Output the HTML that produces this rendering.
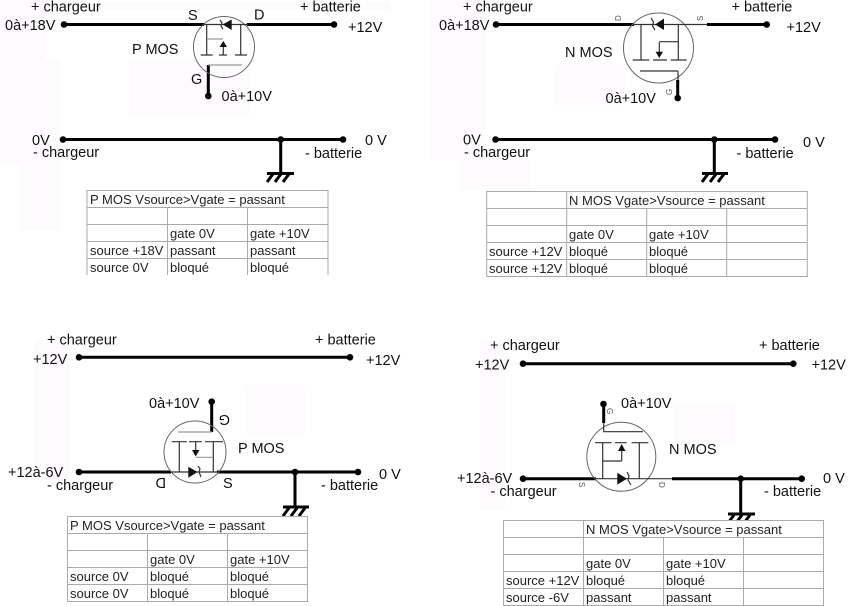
<!DOCTYPE html>
<html><head><meta charset="utf-8"><style>
html,body{margin:0;padding:0;background:#fff}
svg{display:block}
text{font-family:"Liberation Sans",Arial,sans-serif;font-size:14.5px;fill:#111}
.t text{font-size:13px;fill:#222}
.g{fill:none;stroke:#aaa;stroke-width:1}
.k{fill:none;stroke:#000;stroke-width:3}
.m{fill:none;stroke:#333;stroke-width:1.2}
.l{fill:none;stroke:#999;stroke-width:1.2}
.c{fill:#fff;fill-opacity:0;stroke:#666;stroke-width:1}
text.s{font-size:8px;fill:#555}
</style></head><body>
<svg width="851" height="606" viewBox="0 0 851 606" xmlns="http://www.w3.org/2000/svg">
<rect width="851" height="606" fill="#fff"/>
<g fill="#fefbfe">
<rect x="0" y="0" width="45" height="165"/><rect x="20" y="60" width="40" height="170"/><rect x="130" y="60" width="120" height="55"/><rect x="30" y="2" width="360" height="8"/>
<rect x="430" y="0" width="55" height="160"/><rect x="460" y="160" width="70" height="30"/><rect x="555" y="65" width="70" height="40"/>
<rect x="35" y="340" width="35" height="140"/><rect x="245" y="385" width="60" height="50"/>
<rect x="480" y="340" width="25" height="170"/><rect x="675" y="405" width="60" height="40"/>
</g>

<!-- Panel 1 -->
<g class="k"><path d="M64 24.5H204M247 24.5H334M208.3 65V96M64 139.5H343M280.7 139.5V173"/><path d="M267 173.5H294M273 174l-6 8M281 174l-6 8M289 174l-6 8" stroke-width="3"/></g>
<g fill="#000"><circle cx="64" cy="24.5" r="3.3"/><circle cx="334" cy="24.5" r="3.3"/><circle cx="208.3" cy="96" r="3.3"/><circle cx="63" cy="139.5" r="3.3"/><circle cx="343" cy="139.5" r="3.3"/><circle cx="280.7" cy="139.5" r="3.3"/></g>
<circle class="c" cx="224" cy="47" r="30.5"/>
<path class="m" d="M204 24.5H248M206.7 24.5V55M240.7 24.5V55M200.7 55H212.7M219 55H227M235 55H247M223.3 47V55M220 20l2 3-1 3 2 3"/>
<path class="l" d="M207 39H223M208 65H242"/>
<path d="M222.7 24.5L231.7 19.5V30Z M223.3 41L219.5 47H227Z" fill="#111"/>

<!-- Panel 2 -->
<g class="k"><path d="M496 24.5H634M707 24.5H767M677.7 80V98M496 139.5H775M714.3 139.5V173"/><path d="M702 173.5H728M708 174l-6 8M716 174l-6 8M724 174l-6 8" stroke-width="3"/></g>
<g fill="#000"><circle cx="496" cy="24.5" r="3.3"/><circle cx="766.7" cy="24.5" r="3.3"/><circle cx="677.7" cy="98" r="3.3"/><circle cx="495.5" cy="139.5" r="3.3"/><circle cx="775" cy="139.5" r="3.3"/><circle cx="714.3" cy="139.5" r="3.3"/></g>
<circle class="c" cx="658.5" cy="48" r="35"/>
<path class="m" d="M633 24.5H707M641 24.5V60M678.3 24.5V60M632.7 60H649.3M653 60H667M670.7 60H686.7M659.3 42V52M659.3 41.7H678.3M640 71H678M678 71V80M651 18l2.5 4-1 4 2.5 4"/>
<path d="M655 24.5L664 18.5V30Z M659.3 58L655.5 51.7H663Z" fill="#111"/>

<!-- Panel 3 -->
<g class="k"><path d="M79 357.3H350M79 472H171M217 472H358M211.7 432V402M295 472V506"/><path d="M283 507H309M289 508l-6 8M297 508l-6 8M305 508l-6 8" stroke-width="3"/></g>
<g fill="#000"><circle cx="79" cy="357.3" r="3.3"/><circle cx="350" cy="357.3" r="3.3"/><circle cx="79" cy="472" r="3.3"/><circle cx="358" cy="472" r="3.3"/><circle cx="295" cy="472" r="3.3"/><circle cx="211.7" cy="401.7" r="3.3"/></g>
<circle class="c" cx="195" cy="452" r="31"/>
<path class="m" d="M171 472H217M179.3 442V472M213.3 442V472M171.7 441.7H186.7M189 441.7H201.7M205 441.7H223M195.7 442V450M198 466l2 3-1 3 2 5"/>
<path class="l" d="M196 457.3H213M178 432H211.7"/>
<path d="M197.5 472L188.3 466.7V477.7Z M195.7 456.5L192 450H199.5Z" fill="#111"/>

<!-- Panel 4 -->
<g class="k"><path d="M523 363.7H793M523 478.7H596M672 478.7H801.7M603.7 423V404M740.7 478.7V513"/><path d="M728 514H755M734 515l-6 8M742 515l-6 8M750 515l-6 8" stroke-width="3"/></g>
<g fill="#000"><circle cx="523" cy="363.7" r="3.3"/><circle cx="793.3" cy="363.7" r="3.3"/><circle cx="523" cy="478.7" r="3.3"/><circle cx="801.7" cy="478.7" r="3.3"/><circle cx="740.7" cy="478.7" r="3.3"/><circle cx="603.5" cy="404" r="3.3"/></g>
<circle class="c" cx="621.3" cy="456.7" r="34.5"/>
<path class="m" d="M596 478.7H672M602.7 443V478.7M639.3 443V478.7M595 442.7H611.7M615 442.7H626.7M631.7 442.7H648.3M621.7 451V461M602.7 461H621.7M603.7 423V431.7H643M627 472l2 4-1 4 3 5"/>
<path d="M627 478.7L617.3 472.7V484.5Z M621.7 444L618 451H625.5Z" fill="#111"/>

<!-- Tables -->
<g fill="#fff"><rect x="67.3" y="516" width="240" height="86"/><rect x="503.3" y="520" width="320" height="86"/></g>
<path class="g" d="M87 190.5H328M87 207.5H328M87 224.5H328M87 241.5H328M87 258.5H328M87 190V275M167.5 207V275M247.5 207V275M328 190V275"/>
<path class="g" d="M486.7 191.5H807.3M486.7 208.5H807.3M486.7 225.5H807.3M486.7 242.5H807.3M486.7 259.5H807.3M486.7 276.5H807.3M486.7 191V277M566.7 191V277M646.7 208V277M726.7 208V277M807.3 191V277"/>
<path class="g" d="M67.5 516.5H307.5M67.5 533.5H307.5M67.5 550.5H307.5M67.5 567.5H307.5M67.5 584.5H307.5M67.5 601.5H307.5M67.5 516V602M147.5 533V602M227.5 533V602M307.5 516V602"/>
<path class="g" d="M503.5 520.5H823.5M503.5 537.5H823.5M503.5 554.5H823.5M503.5 571.5H823.5M503.5 588.5H823.5M503.5 605.5H823.5M503.5 520V606M583.5 520V606M663.5 537V606M743.5 537V606M823.5 520V606"/>

<g class="t">
<text x="90" y="204">P MOS Vsource&gt;Vgate = passant</text>
<text x="170" y="238">gate 0V</text><text x="250" y="238">gate +10V</text>
<text x="90" y="255">source +18V</text><text x="170" y="255">passant</text><text x="250" y="255">passant</text>
<text x="90" y="272">source 0V</text><text x="170" y="272">bloqué</text><text x="250" y="272">bloqué</text>

<text x="569" y="205">N MOS Vgate&gt;Vsource = passant</text>
<text x="569" y="239">gate 0V</text><text x="649" y="239">gate +10V</text>
<text x="489" y="256">source +12V</text><text x="569" y="256">bloqué</text><text x="649" y="256">bloqué</text>
<text x="489" y="273">source +12V</text><text x="569" y="273">bloqué</text><text x="649" y="273">bloqué</text>

<text x="70" y="530">P MOS Vsource&gt;Vgate = passant</text>
<text x="150" y="564">gate 0V</text><text x="230" y="564">gate +10V</text>
<text x="70" y="581">source 0V</text><text x="150" y="581">bloqué</text><text x="230" y="581">bloqué</text>
<text x="70" y="598">source 0V</text><text x="150" y="598">bloqué</text><text x="230" y="598">bloqué</text>

<text x="586" y="534">N MOS Vgate&gt;Vsource = passant</text>
<text x="586" y="568">gate 0V</text><text x="666" y="568">gate +10V</text>
<text x="506" y="585">source +12V</text><text x="586" y="585">bloqué</text><text x="666" y="585">bloqué</text>
<text x="506" y="602">source -6V</text><text x="586" y="602">passant</text><text x="666" y="602">passant</text>
</g>

<!-- Labels -->
<text x="31" y="11.5">+ chargeur</text><text x="5" y="30">0à+18V</text><text x="188" y="20">S</text><text x="254" y="19.5">D</text>
<text x="300" y="11.5">+ batterie</text><text x="348" y="32">+12V</text><text x="132" y="54">P MOS</text><text x="191" y="84">G</text><text x="221.5" y="101">0à+10V</text>
<text x="32" y="145">0V</text><text x="33" y="157">- chargeur</text><text x="365" y="145">0 V</text><text x="305" y="158">- batterie</text>

<text x="463" y="11.5">+ chargeur</text><text x="439" y="30">0à+18V</text><text x="731.5" y="11.5">+ batterie</text><text x="786.5" y="32">+12V</text>
<text x="565" y="57">N MOS</text><text x="605.5" y="103">0à+10V</text><text x="463" y="144.5">0V</text><text x="464" y="157">- chargeur</text><text x="736.5" y="158">- batterie</text><text x="803" y="147">0 V</text>
<text class="s" transform="translate(621,21) rotate(-90)">D</text><text class="s" transform="translate(703,21) rotate(-90)">S</text><text class="s" transform="translate(672,95) rotate(-90)">G</text>

<text x="47" y="344.5">+ chargeur</text><text x="315" y="344.5">+ batterie</text><text x="33" y="364">+12V</text><text x="366" y="365">+12V</text>
<text x="149" y="408">0à+10V</text><text x="238" y="453">P MOS</text><text x="8" y="477">+12à-6V</text><text x="47" y="490">- chargeur</text><text x="321" y="490">- batterie</text><text x="379" y="479">0 V</text>
<text x="223" y="488">S</text>
<text transform="translate(166,478) rotate(180)">D</text><text transform="translate(230,415) rotate(180)">G</text>

<text x="490" y="350">+ chargeur</text><text x="759" y="350">+ batterie</text><text x="475" y="369.5">+12V</text><text x="811.5" y="369.5">+12V</text>
<text x="621" y="408">0à+10V</text><text x="669" y="454">N MOS</text><text x="457" y="483">+12à-6V</text><text x="490.5" y="496">- chargeur</text><text x="764" y="496">- batterie</text><text x="823" y="483">0 V</text>
<text class="s" transform="translate(607,408) rotate(90)">G</text>
<text class="s" transform="translate(579,482) rotate(90)">S</text><text class="s" transform="translate(659,482) rotate(90)">D</text>
</svg>
</body></html>
